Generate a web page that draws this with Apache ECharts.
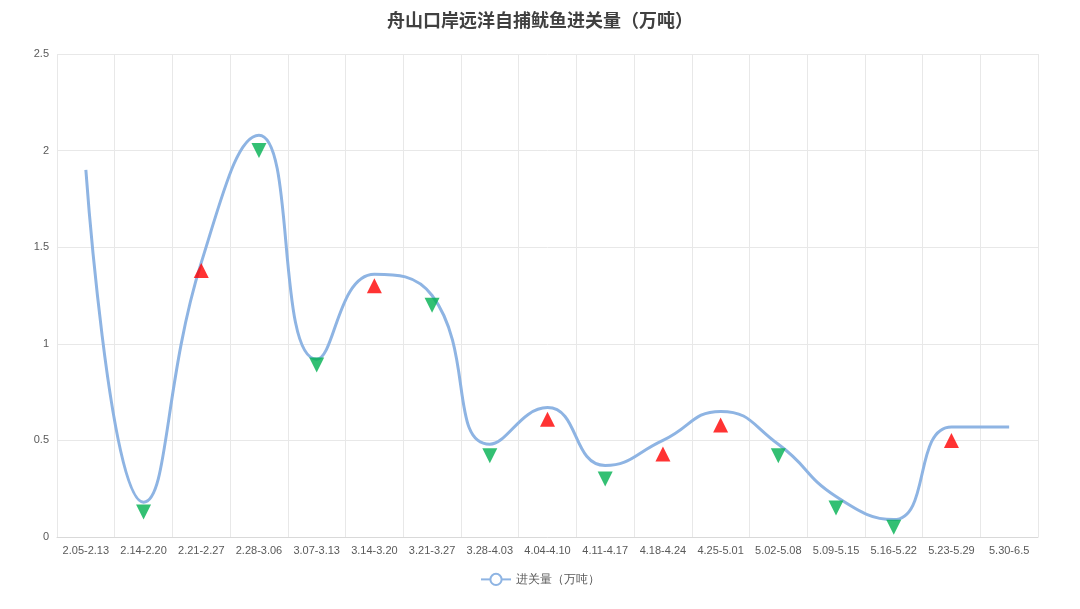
<!DOCTYPE html>
<html>
<head>
<meta charset="utf-8">
<script src="https://cdn.jsdelivr.net/npm/echarts@6/dist/echarts.min.js"></script>
<style>html,body{margin:0;padding:0;background:#fff}#chart{width:1080px;height:609px}</style>
</head>
<body>
<div id="chart"></div>
<script>
var categories = ["2.05-2.13","2.14-2.20","2.21-2.27","2.28-3.06","3.07-3.13","3.14-3.20","3.21-3.27","3.28-4.03","4.04-4.10","4.11-4.17","4.18-4.24","4.25-5.01","5.02-5.08","5.09-5.15","5.16-5.22","5.23-5.29","5.30-6.5"];
var lineValues = [1.90,0.18,1.42,2.08,0.92,1.36,1.25,0.48,0.67,0.37,0.50,0.65,0.48,0.21,0.09,0.57,0.57];
// triangle markers: value and direction (1 up red, -1 down green, 0 none)
var markerValues = [null,0.13,1.38,2.00,0.89,1.30,1.20,0.42,0.61,0.30,0.43,0.58,0.42,0.15,0.05,0.50,null];
var markerDir = [0,-1,1,-1,-1,1,-1,-1,1,-1,1,1,-1,-1,-1,1,0];

var markerData = markerValues.map(function (v, i) {
  if (v === null) return null;
  var up = markerDir[i] > 0;
  return {
    value: [i, v],
    symbolRotate: up ? 0 : 180,
    itemStyle: { color: up ? "#ff0000" : "#00b050" }
  };
}).filter(function (d) { return d; });

var chart = echarts.init(document.getElementById('chart'));
chart.setOption({
  animation: false,
  title: {
    text: "舟山口岸远洋自捕鱿鱼进关量（万吨）",
    left: "center",
    top: 6,
    textStyle: { fontSize: 18, fontWeight: "bold", color: "#404040", fontFamily: "Noto Sans CJK SC" }
  },
  legend: {
    bottom: 18,
    data: ["进关量（万吨）"],
    itemWidth: 30,
    textStyle: { color: "#595959", fontSize: 12 }
  },
  grid: { left: 57, right: 42, top: 54, bottom: 72 },
  xAxis: {
    type: "category",
    data: categories,
    boundaryGap: true,
    axisLine: { lineStyle: { color: "#d9d9d9" } },
    axisTick: { show: false },
    axisLabel: { color: "#595959", fontSize: 11, interval: 0 },
    splitLine: { show: true, lineStyle: { color: "#e8e8e8" } }
  },
  yAxis: {
    type: "value",
    min: 0, max: 2.5, interval: 0.5,
    axisLine: { show: false },
    axisTick: { show: false },
    axisLabel: { color: "#595959", fontSize: 11 },
    splitLine: { lineStyle: { color: "#e8e8e8" } }
  },
  series: [
    {
      name: "进关量（万吨）",
      type: "line",
      data: lineValues,
      smooth: 0.5,
      showSymbol: false,
      lineStyle: { color: "#8eb4e3", width: 3 },
      itemStyle: { color: "#8eb4e3" }
    },
    {
      name: "markers",
      type: "scatter",
      data: markerData,
      symbol: "triangle",
      symbolSize: 15,
      z: 5
    }
  ]
});
</script>
</body>
</html>
